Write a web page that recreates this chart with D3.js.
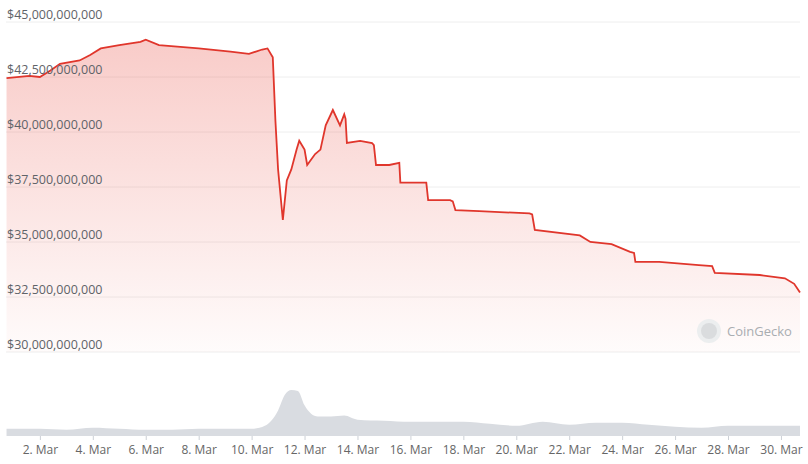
<!DOCTYPE html>
<html><head><meta charset="utf-8">
<script src="https://cdn.jsdelivr.net/npm/d3@7"></script>
<style>body{margin:0;background:#fff;font-family:"Open Sans",sans-serif}</style>
</head><body><div id="chart"></div>
<script>
// market cap (billions USD), day of March (fractional)
const priceDays = [0.74,1.6,2.0,2.4,2.76,3.5,3.9,4.3,5.0,5.8,6.0,6.5,8.0,9.2,9.9,10.4,10.6,10.8,10.9,11.0,11.18,11.33,11.5,11.7,11.8,12.0,12.1,12.4,12.6,12.8,13.07,13.34,13.5,13.55,13.6,14.1,14.55,14.62,14.7,15.2,15.58,15.62,16.5,16.6,16.67,17.5,17.6,17.7,18.6,20.5,20.6,20.7,22.4,22.8,23.6,24.3,24.45,24.5,25.4,26.9,27.4,27.5,29.2,30.15,30.5,30.72]
const priceVals = [42.45,42.55,42.5,42.8,43.1,43.25,43.5,43.8,43.95,44.1,44.2,43.95,43.8,43.65,43.55,43.75,43.8,43.4,40.5,38.3,36.0,37.8,38.3,39.2,39.6,39.2,38.5,39.0,39.2,40.3,41.0,40.3,40.8,40.6,39.5,39.6,39.5,39.4,38.5,38.5,38.6,37.7,37.7,37.7,36.9,36.9,36.85,36.45,36.4,36.3,36.25,35.55,35.3,35.0,34.9,34.55,34.5,34.1,34.1,33.95,33.9,33.6,33.5,33.35,33.1,32.7]
// total volume (billions USD)
const volDays = [0.74,2,3,4,5,6,7,8,9,10,10.5,11,11.25,11.5,11.75,12,12.5,13,13.5,14,15,16,17,18,19,20,21,22,23,24,25,26,27,28,29,30,30.72]
const volVals = [7,7,6,8,7,6,6,7,7,7,10,25,40,45,44,30,19,19,20,16,15,14,14,14,12,10,14,11,13,13,11,9,8,10,10,10,10]
const yTicks = [30,32.5,35,37.5,40,42.5,45]
const xTickDays = [2,4,6,8,10,12,14,16,18,20,22,24,26,28,30]

const W = 808, H = 464
const svg = d3.select('#chart').append('svg').attr('width', W).attr('height', H)
const x = d3.scaleLinear().domain([0.72, 30.72]).range([6, 800])
const y = d3.scaleLinear().domain([30, 45]).range([352, 22])
const yv = d3.scaleLinear().domain([0, 45]).range([436, 390])

const defs = svg.append('defs')
const g = defs.append('linearGradient').attr('id', 'fillg').attr('x1', 0).attr('x2', 0).attr('y1', 0).attr('y2', 1)
g.append('stop').attr('offset', '0%').attr('stop-color', '#e8483d').attr('stop-opacity', 0.28)
g.append('stop').attr('offset', '100%').attr('stop-color', '#e8483d').attr('stop-opacity', 0.02)

// grid
svg.append('g').selectAll('line').data(yTicks).enter().append('line')
  .attr('x1', 6).attr('x2', 800).attr('y1', d => y(d)).attr('y2', d => y(d))
  .attr('stroke', '#eeeeee')

const pts = priceDays.map((d, i) => [d, priceVals[i]])
svg.append('path').datum(pts)
  .attr('d', d3.area().x(d => x(d[0])).y0(352).y1(d => y(d[1])))
  .attr('fill', 'url(#fillg)')
svg.append('path').datum(pts)
  .attr('d', d3.line().x(d => x(d[0])).y(d => y(d[1])))
  .attr('fill', 'none').attr('stroke', '#e0362c').attr('stroke-width', 1.8)

// y labels
svg.append('g').selectAll('text').data(yTicks).enter().append('text')
  .attr('x', 7).attr('y', d => y(d) - 3)
  .attr('font-size', 12.5).attr('font-weight', 500).attr('fill', '#5f6368')
  .text(d => '$' + d3.format(',')(d * 1e9))

// watermark
svg.append('circle').attr('cx', 709).attr('cy', 331).attr('r', 12).attr('fill', '#eceeef')
svg.append('circle').attr('cx', 709).attr('cy', 331).attr('r', 8).attr('fill', '#dadcde')
svg.append('text').attr('x', 727).attr('y', 336).attr('font-size', 13).attr('fill', '#a9adb1').text('CoinGecko')

// volume
const vpts = volDays.map((d, i) => [d, volVals[i]])
svg.append('path').datum(vpts)
  .attr('d', d3.area().curve(d3.curveMonotoneX).x(d => x(d[0])).y0(436).y1(d => yv(d[1])))
  .attr('fill', '#d9dce1')

// x axis
const xa = svg.append('g').attr('transform', 'translate(0,436)')
  .call(d3.axisBottom(x).tickValues(xTickDays).tickSize(4).tickFormat(d => d + '. Mar'))
xa.select('.domain').remove()
xa.selectAll('line').attr('stroke', '#ccd0d6')
xa.selectAll('text').attr('font-size', 12).attr('fill', '#666').attr('font-family', 'Open Sans, sans-serif').attr('dy', '0.9em')
</script></body></html>
